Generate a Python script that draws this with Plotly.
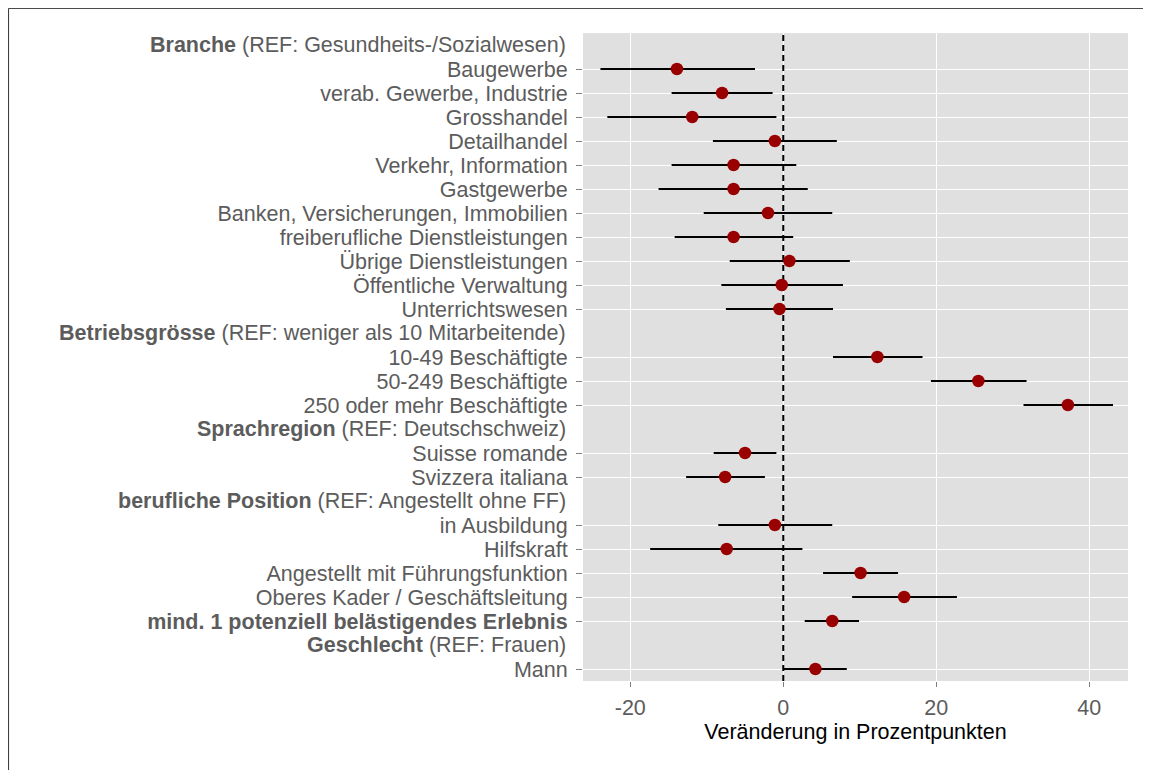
import plotly.graph_objects as go

# rows from top to bottom; None marks a group heading taken from the lists below
group_names = ["Branche", "Betriebsgrösse", "Sprachregion", "berufliche Position", "Geschlecht"]
group_refs = [
    "(REF: Gesundheits-/Sozialwesen)",
    "(REF: weniger als 10 Mitarbeitende)",
    "(REF: Deutschschweiz)",
    "(REF: Angestellt ohne FF)",
    "(REF: Frauen)",
]
labels = [
    None,
    "Baugewerbe",
    "verab. Gewerbe, Industrie",
    "Grosshandel",
    "Detailhandel",
    "Verkehr, Information",
    "Gastgewerbe",
    "Banken, Versicherungen, Immobilien",
    "freiberufliche Dienstleistungen",
    "Übrige Dienstleistungen",
    "Öffentliche Verwaltung",
    "Unterrichtswesen",
    None,
    "10-49 Beschäftigte",
    "50-249 Beschäftigte",
    "250 oder mehr Beschäftigte",
    None,
    "Suisse romande",
    "Svizzera italiana",
    None,
    "in Ausbildung",
    "Hilfskraft",
    "Angestellt mit Führungsfunktion",
    "Oberes Kader / Geschäftsleitung",
    "<b>mind. 1 potenziell belästigendes Erlebnis</b>",
    None,
    "Mann",
]
estimate = [-13.9, -8.0, -11.9, -1.1, -6.5, -6.5, -2.0, -6.5, 0.8, -0.2, -0.5,
            12.3, 25.5, 37.2,
            -5.0, -7.6,
            -1.1, -7.4, 10.1, 15.8,
            6.4,
            4.2]
lower = [-23.9, -14.6, -23.0, -9.2, -14.6, -16.3, -10.4, -14.2, -7.0, -8.1, -7.5,
         6.5, 19.3, 31.4,
         -9.1, -12.7,
         -8.5, -17.4, 5.2, 9.0,
         2.8,
         0.0]
upper = [-3.7, -1.4, -0.9, 7.0, 1.7, 3.2, 6.4, 1.3, 8.7, 7.8, 6.5,
         18.2, 31.8, 43.1,
         -0.9, -2.4,
         6.4, 2.5, 15.0, 22.7,
         9.9,
         8.3]
x_ticks = [-20, 0, 20, 40]
x_tick_text = ["-20", "0", "20", "40"]
reference_value = 0

item_rows, item_text, head_rows = [], [], []
for i, lab in enumerate(labels, start=1):
    if lab is None:
        head_rows.append(i)
    else:
        item_rows.append(i)
        item_text.append(lab)

FONT = "Liberation Sans, Arial, sans-serif"
GREY_TXT = "#5c5c5c"
SIZE = 21.5
y_range = [len(labels) + 0.5, 0.5]

fig = go.Figure()
# dashed reference line at 0, drawn before the points
fig.add_trace(
    go.Scatter(
        x=[reference_value, reference_value],
        y=y_range,
        mode="lines",
        line=dict(color="black", width=2, dash="6px,4px"),
        hoverinfo="skip",
    )
)
fig.add_trace(
    go.Scatter(
        x=estimate,
        y=item_rows,
        mode="markers",
        marker=dict(size=12.5, color="#990000", line=dict(width=0)),
        error_x=dict(
            type="data",
            symmetric=False,
            array=[u - e for u, e in zip(upper, estimate)],
            arrayminus=[e - l for e, l in zip(estimate, lower)],
            color="black",
            thickness=2,
            width=0,
        ),
        hoverinfo="skip",
    )
)

annotations = [
    dict(
        text=f"<b>{name}</b> {ref}",
        x=-0.0275,
        y=row,
        xref="paper",
        yref="y",
        xanchor="right",
        yanchor="middle",
        showarrow=False,
        font=dict(family=FONT, size=SIZE, color=GREY_TXT),
    )
    for name, ref, row in zip(group_names, group_refs, head_rows)
]

shapes = [
    # outer frame (only top and left edges are inside the picture)
    dict(type="line", xref="paper", yref="paper", x0=-1.054, x1=1.2, y0=1.038, y1=1.038,
         line=dict(color="#333333", width=1)),
    dict(type="line", xref="paper", yref="paper", x0=-1.054, x1=-1.054, y0=-0.3, y1=1.038,
         line=dict(color="#333333", width=1)),
]

fig.update_layout(
    width=1151,
    height=770,
    margin=dict(l=575, r=31, t=25, b=97),
    paper_bgcolor="white",
    plot_bgcolor="#e0e0e0",
    showlegend=False,
    font=dict(family=FONT, size=SIZE, color=GREY_TXT),
    annotations=annotations,
    shapes=shapes,
)
fig.update_xaxes(
    range=[-26.18, 45.06],
    tickvals=x_ticks,
    ticktext=x_tick_text,
    showgrid=True,
    gridcolor="white",
    gridwidth=1.3,
    zeroline=False,
    ticks="outside",
    ticklen=5,
    tickwidth=1,
    tickcolor="#7f7f7f",
    ticklabelstandoff=2,
    tickfont=dict(family=FONT, size=SIZE, color=GREY_TXT),
    title=dict(text="Veränderung in Prozentpunkten", standoff=4,
               font=dict(family=FONT, size=21.5, color="black")),
)
fig.update_yaxes(
    range=y_range,
    tickvals=item_rows,
    ticktext=item_text,
    showgrid=True,
    gridcolor="white",
    gridwidth=1.3,
    zeroline=False,
    ticks="outside",
    ticklen=6,
    tickwidth=1,
    tickcolor="#7f7f7f",
    ticklabelstandoff=4,
    tickfont=dict(family=FONT, size=SIZE, color=GREY_TXT),
)

fig.write_html("out.html")
